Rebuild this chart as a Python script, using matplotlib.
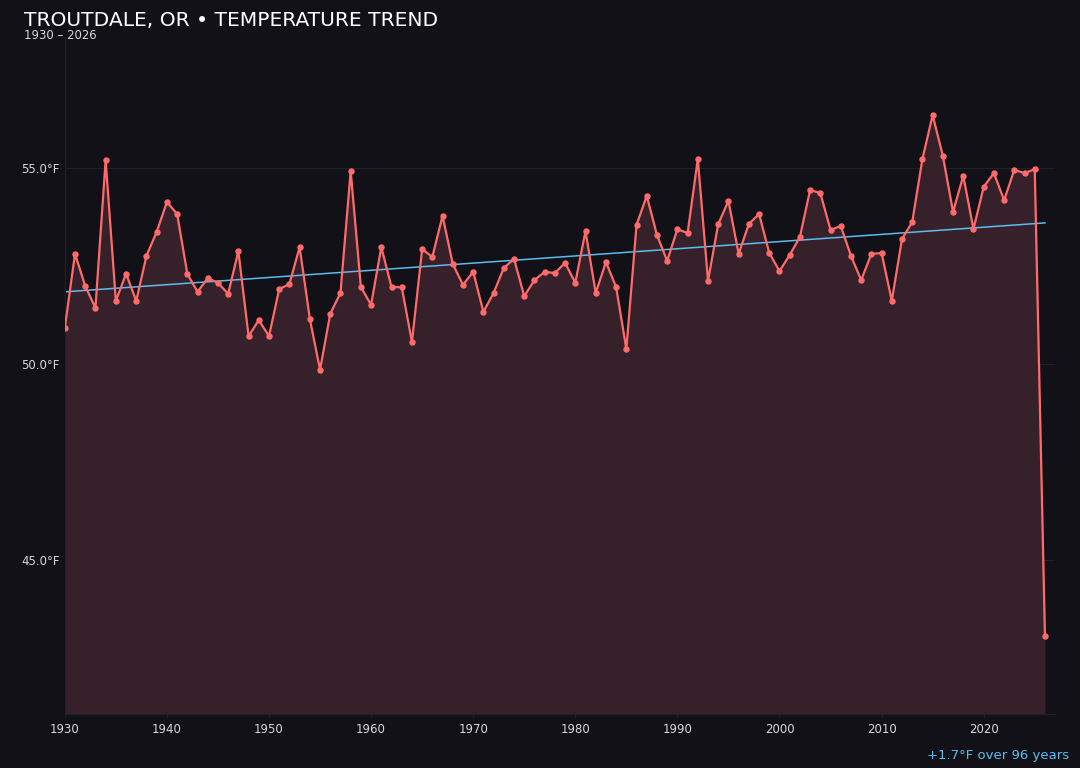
import numpy as np
import matplotlib
matplotlib.use("Agg")
import matplotlib.pyplot as plt

years = list(range(1930, 2027))
temps = [
    50.92, 52.81, 51.99, 51.43, 55.20, 51.61, 52.30, 51.61, 52.76, 53.37,
    54.13, 53.83, 52.30, 51.84, 52.19, 52.07, 51.79, 52.88, 50.71, 51.12,
    50.71, 51.91, 52.04, 52.98, 51.15, 49.85, 51.28, 51.81, 54.92, 51.96,
    51.51, 52.98, 51.96, 51.96, 50.56, 52.93, 52.73, 53.78, 52.55, 52.02,
    52.35, 51.33, 51.81, 52.45, 52.68, 51.73, 52.14, 52.35, 52.32, 52.58,
    52.07, 53.39, 51.81, 52.60, 51.96, 50.38, 53.55, 54.29, 53.29, 52.63,
    53.44, 53.34, 55.23, 52.12, 53.57, 54.16, 52.81, 53.57, 53.83, 52.83,
    52.37, 52.78, 53.24, 54.44, 54.36, 53.42, 53.52, 52.76, 52.14, 52.81,
    52.83, 51.61, 53.19, 53.62, 55.23, 56.35, 55.31, 53.88, 54.80, 53.44,
    54.52, 54.87, 54.18, 54.95, 54.87, 54.97, 43.06,
]
trend_start = 51.84
trend_end = 53.60
trend_change = 1.7
ytick_vals = [45.0, 50.0, 55.0]
xtick_vals = [1930, 1940, 1950, 1960, 1970, 1980, 1990, 2000, 2010, 2020]

BG = "#121117"
LINE = "#ff6b6b"
FILL = "#36202a"
TREND = "#5bbcf0"
GRID = "#22202a"
TXT = "#d8d8dc"

x = np.array(years)
y = np.array(temps)

fig = plt.figure(figsize=(10.8, 7.68), dpi=100, facecolor=BG)
ax = fig.add_axes([0.060, 0.0703, 0.917, 0.8815])
ax.set_facecolor(BG)

span = y.max() - y.min()
lo = y.min() - 0.15 * span
hi = y.max() + 0.15 * span

ax.fill_between(x, y, lo, color=FILL, linewidth=0, zorder=1)
ax.plot([years[0], years[-1]], [trend_start, trend_end], color=TREND, lw=1.1, zorder=2)
ax.plot(x, y, color=LINE, lw=1.6, marker="o", ms=3.6, zorder=3)

ax.set_xlim(1930, 2027)
ax.set_ylim(lo, hi)
ax.set_xticks(xtick_vals)
ax.set_yticks(ytick_vals)
ax.set_yticklabels([f"{v:.1f}°F" for v in ytick_vals])
ax.tick_params(colors=TXT, labelsize=8.5, length=3, width=0.6)
ax.tick_params(axis="x", color=GRID)
ax.tick_params(axis="y", length=0)
ax.grid(axis="y", color=GRID, lw=0.8, zorder=0)
ax.set_axisbelow(True)
for side in ("top", "right"):
    ax.spines[side].set_visible(False)
for side in ("left", "bottom"):
    ax.spines[side].set_color(GRID)
    ax.spines[side].set_linewidth(0.8)

fig.text(0.022, 0.973, "TROUTDALE, OR • TEMPERATURE TREND", color="white",
         fontsize=14.6, va="center", ha="left")
fig.text(0.022, 0.954, "1930 – 2026", color=TXT, fontsize=8.4, va="center", ha="left")
fig.text(0.990, 0.016, f"+{trend_change:.1f}°F over {years[-1] - years[0]} years",
         color=TREND, fontsize=9.5, ha="right", va="center")

fig.savefig("out.png", dpi=100, facecolor=BG)
